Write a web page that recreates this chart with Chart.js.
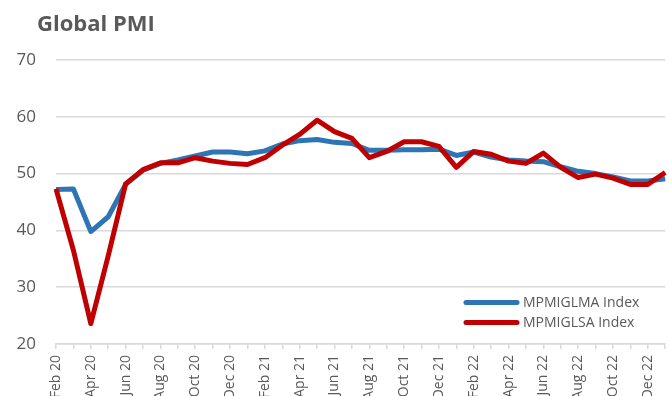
<!DOCTYPE html>
<html>
<head>
<meta charset="utf-8">
<script src="https://cdn.jsdelivr.net/npm/chart.js@4/dist/chart.umd.min.js"></script>
<style>
  html, body { margin: 0; padding: 0; background: #fff; overflow: hidden; width: 669px; height: 396px; }
  #wrap { position: absolute; left: 0; top: 0; width: 688px; height: 400px; }
</style>
</head>
<body>
<div id="wrap"><canvas id="c"></canvas></div>
<script>
const title = "Global PMI";
const months = ["Feb 20","Mar 20","Apr 20","May 20","Jun 20","Jul 20","Aug 20","Sep 20","Oct 20","Nov 20","Dec 20","Jan 21",
                "Feb 21","Mar 21","Apr 21","May 21","Jun 21","Jul 21","Aug 21","Sep 21","Oct 21","Nov 21","Dec 21","Jan 22",
                "Feb 22","Mar 22","Apr 22","May 22","Jun 22","Jul 22","Aug 22","Sep 22","Oct 22","Nov 22","Dec 22","Jan 23"];
const seriesNames = ["MPMIGLMA Index", "MPMIGLSA Index"];
const mpmiglma = [47.2,47.3,39.8,42.4,48.1,50.6,51.8,52.4,53.1,53.8,53.8,53.5,
                  54.0,55.2,55.8,56.0,55.5,55.3,54.1,54.1,54.2,54.2,54.3,53.2,
                  53.8,52.9,52.4,52.2,52.1,51.2,50.4,50.0,49.4,48.7,48.7,49.1];
const mpmiglsa = [47.3,36.5,23.6,35.5,48.2,50.7,51.9,51.9,52.8,52.2,51.8,51.6,
                  52.8,55.0,56.9,59.4,57.4,56.2,52.8,53.9,55.6,55.6,54.8,51.1,
                  53.9,53.4,52.2,51.8,53.6,51.1,49.3,49.9,49.2,48.1,48.1,50.2];
const yMin = 20, yMax = 70, yStep = 10;

const FONT = "'Open Sans', 'DejaVu Sans', sans-serif";
const TEXT = "#595959";
const GRID = "#d9d9d9";
const BLUE = "#2e75b6";
const RED = "#c00000";

const overlay = {
  id: 'overlay',
  afterDraw(chart) {
    const ctx = chart.ctx;
    ctx.save();
    ctx.fillStyle = TEXT;
    ctx.font = "bold 22px " + FONT;
    ctx.textBaseline = "alphabetic";
    ctx.textAlign = "left";
    ctx.fillText(title, 37, 31);
    const ds = chart.data.datasets;
    const rows = [302.5, 322.5];
    ds.forEach((d, i) => {
      ctx.strokeStyle = d.borderColor;
      ctx.lineWidth = 5;
      ctx.lineCap = "round";
      ctx.beginPath();
      ctx.moveTo(466, rows[i]);
      ctx.lineTo(517, rows[i]);
      ctx.stroke();
      ctx.fillStyle = TEXT;
      ctx.font = "14px " + FONT;
      ctx.textBaseline = "middle";
      ctx.fillText(d.label, 523, rows[i] + 0.5);
    });
    ctx.restore();
  }
};

new Chart(document.getElementById('c'), {
  type: 'line',
  data: {
    labels: months,
    datasets: [
      { label: seriesNames[0], data: mpmiglma, borderColor: BLUE, backgroundColor: BLUE, borderWidth: 5, pointRadius: 0, tension: 0, order: 2, borderJoinStyle: 'round' },
      { label: seriesNames[1], data: mpmiglsa, borderColor: RED, backgroundColor: RED, borderWidth: 5, pointRadius: 0, tension: 0, order: 1, borderJoinStyle: 'round' }
    ]
  },
  options: {
    responsive: true,
    maintainAspectRatio: false,
    animation: false,
    layout: { padding: { top: 60, right: 2, left: 0, bottom: 0 } },
    plugins: { legend: { display: false }, tooltip: { enabled: false }, title: { display: false } },
    scales: {
      x: {
        offset: false,
        grid: { display: true, drawOnChartArea: false, drawTicks: true, tickLength: 5, color: GRID, lineWidth: 1.5 },
        border: { display: true, color: GRID, width: 1.5 },
        ticks: {
          autoSkip: false, maxRotation: 90, minRotation: 90, padding: 6,
          color: TEXT, font: { family: FONT, size: 14 },
          callback: function(v, i) { return i % 2 === 0 ? this.getLabelForValue(v) : ''; }
        },
        afterFit(scale) { scale.height = 400 - 344; }
      },
      y: {
        min: yMin, max: yMax,
        grid: { color: GRID, lineWidth: 1.5, drawTicks: false },
        border: { display: false },
        ticks: { stepSize: yStep, padding: 20, color: TEXT, font: { family: FONT, size: 17 } },
        afterFit(scale) { scale.width = 56; }
      }
    }
  },
  plugins: [overlay]
});
</script>
</body>
</html>
